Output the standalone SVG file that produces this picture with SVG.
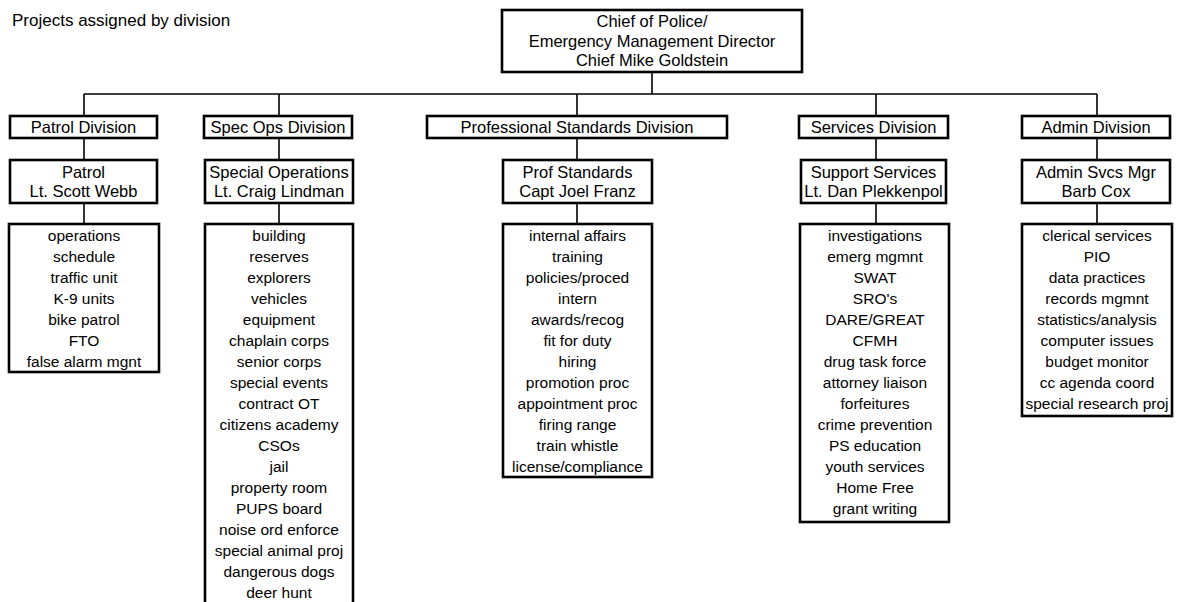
<svg xmlns="http://www.w3.org/2000/svg" width="1181" height="602" viewBox="0 0 1181 602">
<style>
.bg{fill:#ffffff}
.box{fill:#ffffff;stroke:#000000;stroke-width:2.6}
.con{fill:none;stroke:#000000;stroke-width:1.6}
text{font-family:"Liberation Sans",Arial,sans-serif;fill:#000000;text-anchor:middle}
.h{font-size:16.5px}
.i{font-size:15.5px}
.t{font-size:17px;text-anchor:start}
</style>
<rect class="bg" x="0" y="0" width="1181" height="602"/>
<text class="t" x="12" y="26">Projects assigned by division</text>

<g id="connectors">
<path class="con" d="M652 72V94M84 94H1097M84 94V117M279 94V117M577 94V117M876 94V117M1097 94V117"/>
<path class="con" d="M84 138V160M279 138V160M577 138V160M876 138V160M1097 138V160"/>
<path class="con" d="M84 203V224M279 203V224M577 203V224M876 203V224M1097 203V224"/>
</g>

<g id="chief">
<rect class="box" x="502" y="10" width="300" height="62"/>
<text class="h" x="652" y="27">Chief of Police/</text>
<text class="h" x="652" y="47">Emergency Management Director</text>
<text class="h" x="652" y="66">Chief Mike Goldstein</text>
</g>

<g id="patrol-division">
<rect class="box" x="10" y="116" width="147" height="22"/>
<text class="h" x="83.5" y="133">Patrol Division</text>
</g>
<g id="specops-division">
<rect class="box" x="204" y="116" width="148" height="22"/>
<text class="h" x="278" y="133">Spec Ops Division</text>
</g>
<g id="profstd-division">
<rect class="box" x="427" y="116" width="300" height="22"/>
<text class="h" x="577" y="133">Professional Standards Division</text>
</g>
<g id="services-division">
<rect class="box" x="799" y="116" width="149" height="22"/>
<text class="h" x="873.5" y="133">Services Division</text>
</g>
<g id="admin-division">
<rect class="box" x="1022" y="116" width="148" height="22"/>
<text class="h" x="1096" y="133">Admin Division</text>
</g>

<g id="patrol-lead">
<rect class="box" x="10" y="160" width="147" height="43"/>
<text class="h" x="83.5" y="178">Patrol</text>
<text class="h" x="83.5" y="197">Lt. Scott Webb</text>
</g>
<g id="specops-lead">
<rect class="box" x="205" y="160" width="148" height="43"/>
<text class="h" x="279" y="178">Special Operations</text>
<text class="h" x="279" y="197">Lt. Craig Lindman</text>
</g>
<g id="profstd-lead">
<rect class="box" x="503" y="160" width="149" height="43"/>
<text class="h" x="577.5" y="178">Prof Standards</text>
<text class="h" x="577.5" y="197">Capt Joel Franz</text>
</g>
<g id="services-lead">
<rect class="box" x="801" y="160" width="145" height="43"/>
<text class="h" x="873.5" y="178">Support Services</text>
<text class="h" x="873.5" y="197">Lt. Dan Plekkenpol</text>
</g>
<g id="admin-lead">
<rect class="box" x="1022" y="160" width="148" height="43"/>
<text class="h" x="1096" y="178">Admin Svcs Mgr</text>
<text class="h" x="1096" y="197">Barb Cox</text>
</g>

<g id="patrol-projects">
<rect class="box" x="9" y="224" width="150" height="148"/>
<text class="i" x="84" y="241">operations</text>
<text class="i" x="84" y="262">schedule</text>
<text class="i" x="84" y="283">traffic unit</text>
<text class="i" x="84" y="304">K-9 units</text>
<text class="i" x="84" y="325">bike patrol</text>
<text class="i" x="84" y="346">FTO</text>
<text class="i" x="84" y="367">false alarm mgnt</text>
</g>

<g id="specops-projects">
<rect class="box" x="205" y="224" width="148" height="392"/>
<text class="i" x="279" y="241">building</text>
<text class="i" x="279" y="262">reserves</text>
<text class="i" x="279" y="283">explorers</text>
<text class="i" x="279" y="304">vehicles</text>
<text class="i" x="279" y="325">equipment</text>
<text class="i" x="279" y="346">chaplain corps</text>
<text class="i" x="279" y="367">senior corps</text>
<text class="i" x="279" y="388">special events</text>
<text class="i" x="279" y="409">contract OT</text>
<text class="i" x="279" y="430">citizens academy</text>
<text class="i" x="279" y="451">CSOs</text>
<text class="i" x="279" y="472">jail</text>
<text class="i" x="279" y="493">property room</text>
<text class="i" x="279" y="514">PUPS board</text>
<text class="i" x="279" y="535">noise ord enforce</text>
<text class="i" x="279" y="556">special animal proj</text>
<text class="i" x="279" y="577">dangerous dogs</text>
<text class="i" x="279" y="598">deer hunt</text>
</g>

<g id="profstd-projects">
<rect class="box" x="503" y="224" width="149" height="253"/>
<text class="i" x="577.5" y="241">internal affairs</text>
<text class="i" x="577.5" y="262">training</text>
<text class="i" x="577.5" y="283">policies/proced</text>
<text class="i" x="577.5" y="304">intern</text>
<text class="i" x="577.5" y="325">awards/recog</text>
<text class="i" x="577.5" y="346">fit for duty</text>
<text class="i" x="577.5" y="367">hiring</text>
<text class="i" x="577.5" y="388">promotion proc</text>
<text class="i" x="577.5" y="409">appointment proc</text>
<text class="i" x="577.5" y="430">firing range</text>
<text class="i" x="577.5" y="451">train whistle</text>
<text class="i" x="577.5" y="472">license/compliance</text>
</g>

<g id="services-projects">
<rect class="box" x="800" y="224" width="149" height="298"/>
<text class="i" x="875" y="241">investigations</text>
<text class="i" x="875" y="262">emerg mgmnt</text>
<text class="i" x="875" y="283">SWAT</text>
<text class="i" x="875" y="304">SRO's</text>
<text class="i" x="875" y="325">DARE/GREAT</text>
<text class="i" x="875" y="346">CFMH</text>
<text class="i" x="875" y="367">drug task force</text>
<text class="i" x="875" y="388">attorney liaison</text>
<text class="i" x="875" y="409">forfeitures</text>
<text class="i" x="875" y="430">crime prevention</text>
<text class="i" x="875" y="451">PS education</text>
<text class="i" x="875" y="472">youth services</text>
<text class="i" x="875" y="493">Home Free</text>
<text class="i" x="875" y="514">grant writing</text>
</g>

<g id="admin-projects">
<rect class="box" x="1022" y="224" width="150" height="192"/>
<text class="i" x="1097" y="241">clerical services</text>
<text class="i" x="1097" y="262">PIO</text>
<text class="i" x="1097" y="283">data practices</text>
<text class="i" x="1097" y="304">records mgmnt</text>
<text class="i" x="1097" y="325">statistics/analysis</text>
<text class="i" x="1097" y="346">computer issues</text>
<text class="i" x="1097" y="367">budget monitor</text>
<text class="i" x="1097" y="388">cc agenda coord</text>
<text class="i" x="1097" y="409">special research proj</text>
</g>
</svg>
